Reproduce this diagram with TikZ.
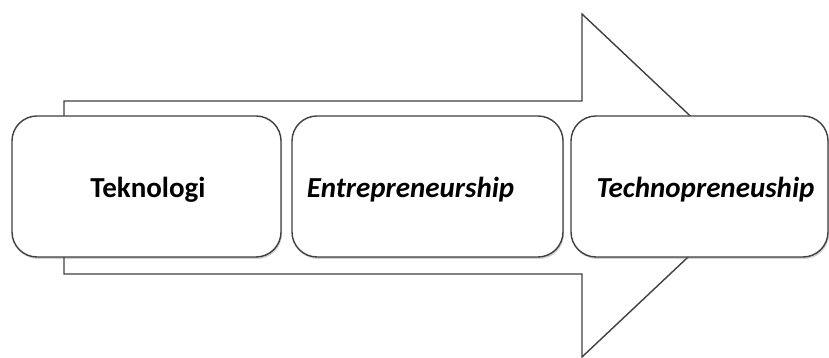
\documentclass[tikz,border=0pt]{standalone}
\usepackage{fontspec}
\setmainfont{Carlito}
\usetikzlibrary{shadows}
\begin{document}
\begin{tikzpicture}[x=1pt,y=1pt,
  line width=1.4pt,
  stage/.style={draw=black!75,fill=white,rounded corners=25pt,minimum width=#1,minimum height=141pt,inner sep=0pt,
    drop shadow={shadow xshift=1pt,shadow yshift=-2pt,opacity=0.3,fill=black!60}},
  stagetext/.style={font=\fontsize{29}{34}\selectfont\bfseries,anchor=base}]
\useasboundingbox (0,0) rectangle (829,358);
\pgfmathsetmacro{\cy}{171.5}
% the big arrow behind
\draw[draw=black!75,fill=white] (64,257)--(582,257)--(582,344)--(764,172.5)--(582,1)--(582,84)--(64,84)--cycle;
% the three stages
\node[stage=269pt] (teknologi) at (146.5,\cy) {};
\node[stage=271pt] (entre) at (427.5,\cy) {};
\node[stage=257pt] (techno) at (699.5,\cy) {};
\node[stagetext] (teknologitxt) at ([xshift=1.5pt,yshift=-11.5pt]teknologi.center) {Teknologi};
\node[stagetext] (entretxt) at ([xshift=-17pt,yshift=-11.5pt]entre.center) {\itshape Entrepreneurship};
\node[stagetext] (technotxt) at ([xshift=6pt,yshift=-11.5pt]techno.center) {\itshape Technopreneuship};
\end{tikzpicture}
\end{document}
